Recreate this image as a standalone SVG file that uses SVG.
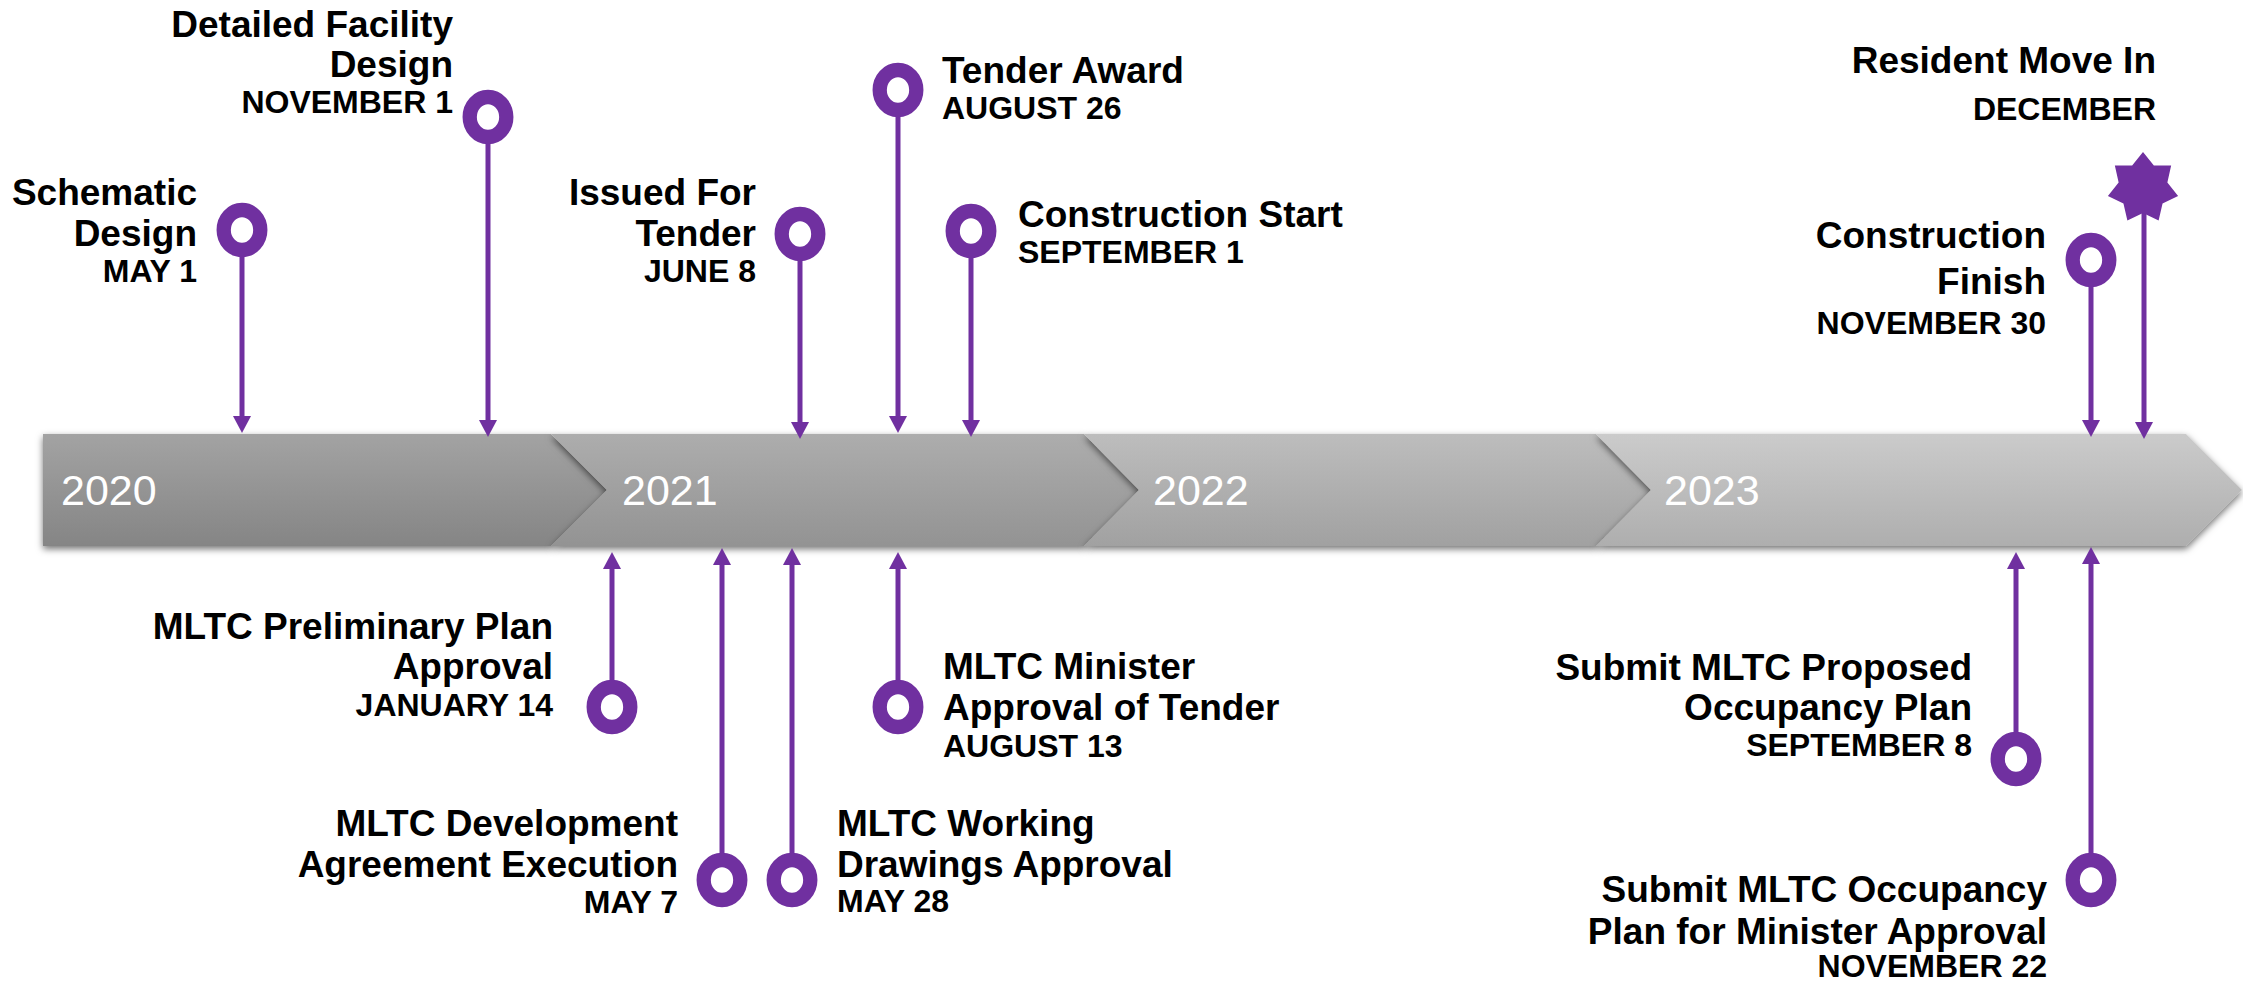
<svg xmlns="http://www.w3.org/2000/svg" width="2243" height="984" viewBox="0 0 2243 984">
<defs>
<linearGradient id="g2020" x1="0" y1="0" x2="0" y2="1"><stop offset="0" stop-color="#a3a3a3"/><stop offset="1" stop-color="#858585"/></linearGradient>
<linearGradient id="g2021" x1="0" y1="0" x2="0" y2="1"><stop offset="0" stop-color="#adadad"/><stop offset="1" stop-color="#939393"/></linearGradient>
<linearGradient id="g2022" x1="0" y1="0" x2="0" y2="1"><stop offset="0" stop-color="#bdbdbd"/><stop offset="1" stop-color="#a1a1a1"/></linearGradient>
<linearGradient id="g2023" x1="0" y1="0" x2="0" y2="1"><stop offset="0" stop-color="#cbcbcb"/><stop offset="1" stop-color="#aeaeae"/></linearGradient>
<filter id="shadow" x="-5%" y="-20%" width="110%" height="150%">
<feDropShadow dx="0" dy="3" stdDeviation="3.5" flood-color="#000" flood-opacity="0.55"/>
</filter>
<marker id="arrow" viewBox="0 0 17 18" refX="2" refY="9" markerWidth="17" markerHeight="18" markerUnits="userSpaceOnUse" orient="auto">
<path d="M0,0 L17,9 L0,18 Z" fill="#7030a0"/>
</marker>
<style>
.seg{filter:url(#shadow);}
.year{font-family:"Liberation Sans",Arial,sans-serif;font-size:43px;fill:#ffffff;}
.t{font-family:"Liberation Sans",Arial,sans-serif;font-weight:bold;font-size:37px;fill:#000000;}
.d{font-family:"Liberation Sans",Arial,sans-serif;font-weight:bold;font-size:32px;fill:#000000;}
.end{text-anchor:end;}
.ring{fill:none;stroke:#7030a0;stroke-width:14.3;}
.conn line{stroke:#7030a0;stroke-width:5;marker-end:url(#arrow);}
</style>
</defs>
<rect width="2243" height="984" fill="#ffffff"/>

<g id="band">
<g id="seg-2020"><path class="seg" d="M43,434 H551 L607,490 L551,546 H43 Z" fill="url(#g2020)"/><text class="year" x="61" y="505">2020</text></g>
<g id="seg-2021"><path class="seg" d="M551,434 H1084 L1139,490 L1084,546 H551 L607,490 Z" fill="url(#g2021)"/><text class="year" x="622" y="505">2021</text></g>
<g id="seg-2022"><path class="seg" d="M1084,434 H1596 L1651,490 L1596,546 H1084 L1139,490 Z" fill="url(#g2022)"/><text class="year" x="1153" y="505">2022</text></g>
<g id="seg-2023"><path class="seg" d="M1596,434 H2186 L2242,490 L2186,546 H1596 L1651,490 Z" fill="url(#g2023)"/><text class="year" x="1664" y="505">2023</text></g>
</g>

<g id="connectors" class="conn">
<line x1="242" y1="250" x2="242" y2="418"/>
<line x1="488" y1="137" x2="488" y2="422"/>
<line x1="800" y1="254" x2="800" y2="424"/>
<line x1="898" y1="110" x2="898" y2="418"/>
<line x1="971" y1="251" x2="971" y2="422"/>
<line x1="2091" y1="280" x2="2091" y2="422"/>
<line x1="2144" y1="212" x2="2144" y2="424"/>
<line x1="612" y1="687" x2="612" y2="567"/>
<line x1="722" y1="860" x2="722" y2="563"/>
<line x1="898" y1="687" x2="898" y2="567"/>
<line x1="792" y1="860" x2="792" y2="563"/>
<line x1="2016" y1="739" x2="2016" y2="567"/>
<line x1="2091" y1="860" x2="2091" y2="562"/>
</g>

<g id="schematic-design">
<ellipse class="ring" cx="242" cy="230" rx="18.3" ry="20"/>
<text class="t end" x="197" y="205">Schematic</text>
<text class="t end" x="197" y="246">Design</text>
<text class="d end" x="197" y="282">MAY 1</text>
</g>

<g id="detailed-facility-design">
<ellipse class="ring" cx="488" cy="117" rx="18.3" ry="20"/>
<text class="t end" x="453" y="37">Detailed Facility</text>
<text class="t end" x="453" y="77">Design</text>
<text class="d end" x="453" y="113">NOVEMBER 1</text>
</g>

<g id="issued-for-tender">
<ellipse class="ring" cx="800" cy="234" rx="18.3" ry="20"/>
<text class="t end" x="756" y="205">Issued For</text>
<text class="t end" x="756" y="246">Tender</text>
<text class="d end" x="756" y="282">JUNE 8</text>
</g>

<g id="tender-award">
<ellipse class="ring" cx="898" cy="90" rx="18.3" ry="20"/>
<text class="t" x="942" y="83">Tender Award</text>
<text class="d" x="942" y="119">AUGUST 26</text>
</g>

<g id="construction-start">
<ellipse class="ring" cx="971" cy="231" rx="18.3" ry="20"/>
<text class="t" x="1018" y="227">Construction Start</text>
<text class="d" x="1018" y="263">SEPTEMBER 1</text>
</g>

<g id="construction-finish">
<ellipse class="ring" cx="2091" cy="260" rx="18.3" ry="20"/>
<text class="t end" x="2046" y="248">Construction</text>
<text class="t end" x="2046" y="294">Finish</text>
<text class="d end" x="2046" y="334">NOVEMBER 30</text>
</g>

<g id="resident-move-in">
<path d="M2143,152 L2153.85,165.48 L2171.15,165.55 L2167.37,182.44 L2178.1,196.01 L2162.55,203.59 L2158.62,220.44 L2143,213 L2127.38,220.44 L2123.45,203.59 L2107.9,196.01 L2118.63,182.44 L2114.85,165.55 L2132.15,165.48 Z" fill="#7030a0"/>
<text class="t end" x="2156" y="73">Resident Move In</text>
<text class="d end" x="2156" y="120">DECEMBER</text>
</g>

<g id="mltc-preliminary-plan-approval">
<ellipse class="ring" cx="612" cy="707" rx="18.3" ry="20"/>
<text class="t end" x="553" y="639">MLTC Preliminary Plan</text>
<text class="t end" x="553" y="679">Approval</text>
<text class="d end" x="553" y="716">JANUARY 14</text>
</g>

<g id="mltc-development-agreement">
<ellipse class="ring" cx="722" cy="880" rx="18.3" ry="20"/>
<text class="t end" x="678" y="836">MLTC Development</text>
<text class="t end" x="678" y="877">Agreement Execution</text>
<text class="d end" x="678" y="913">MAY 7</text>
</g>

<g id="mltc-working-drawings">
<ellipse class="ring" cx="792" cy="880" rx="18.3" ry="20"/>
<text class="t" x="837" y="836">MLTC Working</text>
<text class="t" x="837" y="877">Drawings Approval</text>
<text class="d" x="837" y="912">MAY 28</text>
</g>

<g id="mltc-minister-approval">
<ellipse class="ring" cx="898" cy="707" rx="18.3" ry="20"/>
<text class="t" x="943" y="679">MLTC Minister</text>
<text class="t" x="943" y="720">Approval of Tender</text>
<text class="d" x="943" y="757">AUGUST 13</text>
</g>

<g id="submit-proposed-occupancy">
<ellipse class="ring" cx="2016" cy="759" rx="18.3" ry="20"/>
<text class="t end" x="1972" y="680">Submit MLTC Proposed</text>
<text class="t end" x="1972" y="720">Occupancy Plan</text>
<text class="d end" x="1972" y="756">SEPTEMBER 8</text>
</g>

<g id="submit-occupancy-minister">
<ellipse class="ring" cx="2091" cy="880" rx="18.3" ry="20"/>
<text class="t end" x="2047" y="902">Submit MLTC Occupancy</text>
<text class="t end" x="2047" y="944">Plan for Minister Approval</text>
<text class="d end" x="2047" y="977">NOVEMBER 22</text>
</g>
</svg>
